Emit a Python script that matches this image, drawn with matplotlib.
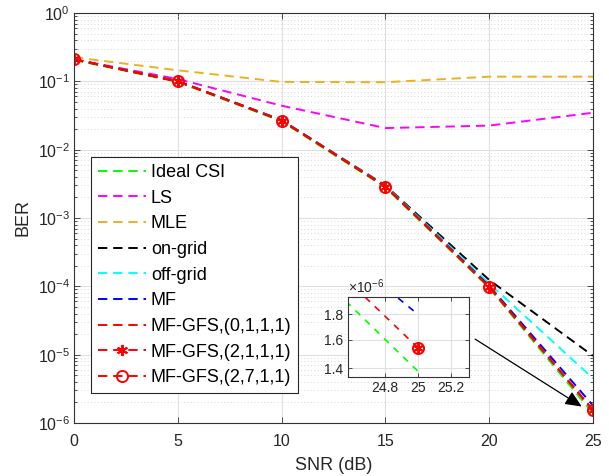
import matplotlib
matplotlib.use("Agg")

import matplotlib.pyplot as plt
from matplotlib.ticker import NullLocator, NullFormatter, FixedLocator, FixedFormatter

plt.rcParams["font.family"] = ["Liberation Sans", "DejaVu Sans"]
plt.rcParams["mathtext.fontset"] = "custom"
plt.rcParams["mathtext.rm"] = "Liberation Sans"
plt.rcParams["mathtext.it"] = "Liberation Sans:italic"

# BER vs SNR
snr = [0, 5, 10, 15, 20, 25]
ber_ideal = [0.205, 0.098, 0.026, 2.80e-3, 9.5e-5, 1.38e-6]
ber_ls = [0.21, 0.108, 0.044, 0.0207, 0.0225, 0.0347]
ber_mle = [0.225, 0.145, 0.098, 0.097, 0.117, 0.117]
ber_ongrid = [0.21, 0.101, 0.027, 3.0e-3, 1.24e-4, 9.6e-6]
ber_offgrid = [0.21, 0.101, 0.027, 2.95e-3, 1.10e-4, 4.5e-6]
ber_mf = [0.21, 0.100, 0.027, 2.90e-3, 1.02e-4, 1.8e-6]
ber_gfs_0111 = [0.21, 0.100, 0.0267, 2.89e-3, 9.8e-5, 1.54e-6]
ber_gfs_2111 = [0.21, 0.100, 0.0267, 2.89e-3, 9.8e-5, 1.54e-6]
ber_gfs_2711 = [0.21, 0.100, 0.0267, 2.89e-3, 9.8e-5, 1.54e-6]

# zoomed-in inset near SNR = 25 dB
inset_snr = [24.5, 25]
inset_ideal = [2.0e-6, 1.38e-6]
inset_gfs = [2.22e-6, 1.54e-6]
inset_mf = [2.46e-6, 1.8e-6]

y_exponents = [-6, -5, -4, -3, -2, -1, 0]

ORANGE = (0.929, 0.694, 0.125)
DASH = (4.8, 3.0)

fig = plt.figure(figsize=(6.09, 4.76), dpi=100)
ax = fig.add_axes([74 / 609, 53 / 476, 519 / 609, 410 / 476])

series = [
    (ber_ideal, (0, 1, 0), None, "Ideal CSI"),
    (ber_ls, (1, 0, 1), None, "LS"),
    (ber_mle, ORANGE, None, "MLE"),
    (ber_ongrid, "k", None, "on-grid"),
    (ber_offgrid, (0, 1, 1), None, "off-grid"),
    (ber_mf, (0, 0, 1), None, "MF"),
    (ber_gfs_0111, (1, 0, 0), None, "MF-GFS,(0,1,1,1)"),
    (ber_gfs_2111, (1, 0, 0), (6, 2, 0), "MF-GFS,(2,1,1,1)"),
    (ber_gfs_2711, (1, 0, 0), "o", "MF-GFS,(2,7,1,1)"),
]
for values, color, marker, label in series:
    ax.semilogy(snr, values, color=color, lw=1.4, dashes=DASH,
                marker=marker, markersize=8, markerfacecolor="none",
                markeredgecolor=color, markeredgewidth=1.4, label=label)

ax.set_xlim(0, 25)
ax.set_ylim(1e-6, 1)
ax.set_xticks([0, 5, 10, 15, 20, 25])
ax.yaxis.set_major_locator(FixedLocator([10.0 ** e for e in y_exponents]))
ax.yaxis.set_major_formatter(
    FixedFormatter([r"$\mathdefault{10^{%d}}$" % e for e in y_exponents]))
minor_y = [m * 10.0 ** e for e in y_exponents[:-1] for m in range(2, 10)]
ax.yaxis.set_minor_locator(FixedLocator(minor_y))
ax.yaxis.set_minor_formatter(NullFormatter())
ax.tick_params(which="both", direction="in", top=True, right=True, labelsize=11.5,
               color="0.2", width=0.6, labelcolor="0.15")
ax.tick_params(which="major", length=4)
ax.tick_params(which="minor", length=2)
ax.tick_params(axis="x", pad=8)
ax.tick_params(axis="y", pad=3)
ax.grid(which="major", color="0.88", lw=0.8)
ax.grid(which="minor", axis="y", color="0.8", lw=0.6, linestyle=(0, (1, 3)))
ax.set_axisbelow(True)
for spine in ax.spines.values():
    spine.set_color("0.2")
    spine.set_linewidth(0.8)

ax.set_xlabel("SNR (dB)", fontsize=13, labelpad=6, color="0.15")
ax.set_ylabel("BER", fontsize=13, labelpad=4, color="0.15")

leg = ax.legend(loc="lower left", bbox_to_anchor=(0.033, 0.073), borderaxespad=0,
                fontsize=13, handlelength=2.65, handletextpad=0.28, labelspacing=0.48,
                fancybox=False, framealpha=1, edgecolor="0.15", borderpad=0.38)
leg.get_frame().set_linewidth(0.8)

ax.annotate("", xy=(24.46, 1.74e-6), xytext=(19.32, 1.69e-5),
            arrowprops=dict(arrowstyle="-|>,head_length=0.5,head_width=0.22",
                            color="k", lw=0.9, mutation_scale=20,
                            shrinkA=0, shrinkB=0))

# inset
axi = fig.add_axes([347.7 / 609, 1 - 376.7 / 476, 121 / 609, 80 / 476])
axi.semilogy(inset_snr, inset_ideal, color=(0, 1, 0), lw=1.2, dashes=(4, 4))
axi.semilogy(inset_snr, inset_gfs, color=(1, 0, 0), lw=1.2, dashes=(4, 4))
axi.semilogy(inset_snr, inset_mf, color=(0, 0, 1), lw=1.2, dashes=(4, 4))
axi.plot([inset_snr[-1]], [inset_gfs[-1]], color=(1, 0, 0), marker=(6, 2, 0),
         markersize=8, markeredgewidth=1.4)
axi.plot([inset_snr[-1]], [inset_gfs[-1]], color=(1, 0, 0), marker="o",
         markersize=8, markerfacecolor="none", markeredgewidth=1.4)
axi.set_xlim(24.57, 25.31)
axi.set_ylim(1.346e-6, 1.955e-6)
axi.set_xticks([24.8, 25, 25.2])
axi.set_xticklabels(["24.8", "25", "25.2"])
axi.yaxis.set_major_locator(FixedLocator([1.4e-6, 1.6e-6, 1.8e-6]))
axi.yaxis.set_major_formatter(FixedFormatter(["1.4", "1.6", "1.8"]))
axi.yaxis.set_minor_locator(NullLocator())
axi.tick_params(which="both", direction="in", top=True, right=True, labelsize=10,
                length=3, color="0.2", width=0.6, pad=3, labelcolor="0.15")
axi.grid(which="major", color="0.88", lw=0.8)
axi.set_axisbelow(True)
for spine in axi.spines.values():
    spine.set_color("0.2")
    spine.set_linewidth(0.8)
axi.text(0.0, 1.01, r"$\times\mathdefault{10^{-6}}$", transform=axi.transAxes,
         fontsize=10, ha="left", va="bottom", color="0.15")

fig.savefig("out.png", dpi=100)
plt.close(fig)
